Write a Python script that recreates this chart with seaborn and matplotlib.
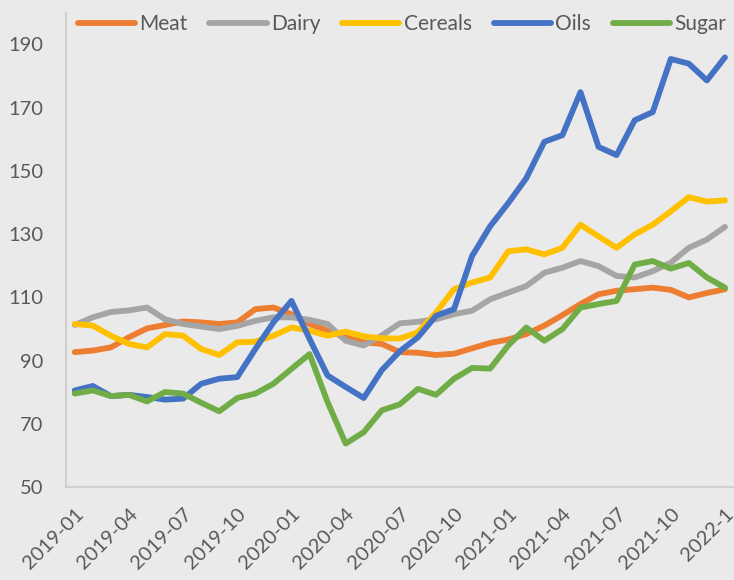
import numpy as np
import pandas as pd
import seaborn as sns
import matplotlib.pyplot as plt

# --- Data (monthly index) ---
MONTHS = pd.date_range("2019-01-01", "2022-01-01", freq="MS").strftime("%Y-%m").tolist()
TICK_LABELS = ["2019-01", "2019-04", "2019-07", "2019-10", "2020-01", "2020-04", "2020-07",
               "2020-10", "2021-01", "2021-04", "2021-07", "2021-10", "2022-1"]

meat = [92.7, 93.2, 94.2, 97.4, 100.2, 101.3, 102.4, 102.1, 101.6, 102.1, 106.3, 106.8,
        104.7, 101.6, 99.5, 97.4, 95.8, 95.3, 92.7, 92.5, 91.8, 92.2, 93.9, 95.6,
        96.7, 98.4, 101.1, 104.4, 107.9, 111.0, 112.1, 112.6, 113.1, 112.4, 110.0, 111.4,
        112.6]
dairy = [101.3, 103.7, 105.4, 105.9, 106.8, 103.1, 101.6, 100.8, 100.0, 101.0, 102.6, 103.7,
         103.7, 102.9, 101.6, 96.3, 94.8, 98.0, 101.8, 102.3, 103.1, 104.7, 105.8, 109.4,
         111.5, 113.6, 117.8, 119.4, 121.5, 119.9, 116.8, 116.3, 118.3, 121.0, 125.7, 128.3,
         132.3]
cereals = [101.6, 101.1, 97.9, 95.3, 94.2, 98.4, 97.9, 93.7, 91.8, 95.8, 96.0, 97.9,
           100.5, 99.5, 97.9, 99.2, 97.7, 97.1, 97.0, 99.0, 105.2, 112.6, 114.7, 116.3,
           124.6, 125.2, 123.6, 125.7, 133.0, 129.3, 125.7, 129.9, 133.0, 137.2, 141.7, 140.3,
           140.7]
oils = [80.6, 82.0, 78.8, 79.2, 78.5, 77.7, 78.0, 82.7, 84.3, 84.8, 93.7, 102.1,
        108.9, 96.9, 85.3, 81.7, 78.2, 87.0, 93.0, 97.4, 104.2, 106.3, 123.1, 132.5,
        139.8, 147.7, 159.2, 161.3, 174.9, 157.6, 155.0, 166.0, 168.6, 185.4, 183.9, 178.6,
        185.9]
sugar = [79.6, 80.6, 78.8, 79.2, 77.1, 80.1, 79.6, 76.7, 74.0, 78.2, 79.6, 82.7,
         87.4, 92.1, 76.9, 63.8, 67.4, 74.3, 76.2, 81.1, 79.2, 84.3, 87.7, 87.5,
         94.8, 100.5, 96.3, 100.0, 106.8, 107.9, 108.9, 120.4, 121.5, 119.1, 120.9, 116.3,
         113.1]

SERIES = ["Meat", "Dairy", "Cereals", "Oils", "Sugar"]
COLORS = ["#ED7D31", "#A5A5A5", "#FFC000", "#4472C4", "#70AD47"]

BG = "#EAEAEA"
TEXT = "#595959"

df = pd.DataFrame({"month": MONTHS, "Meat": meat, "Dairy": dairy, "Cereals": cereals,
                   "Oils": oils, "Sugar": sugar})
df["pos"] = np.arange(len(df))
long_df = df.melt(id_vars=["month", "pos"], value_vars=SERIES,
                  var_name="Series", value_name="Value")

sns.set_style("white", {"axes.facecolor": BG, "figure.facecolor": BG})
plt.rcParams["font.family"] = ["Lato", "DejaVu Sans"]

fig = plt.figure(figsize=(7.34, 5.8), dpi=100)
ax = fig.add_axes([0.0895, 0.160, 0.9105, 0.818])

sns.lineplot(data=long_df, x="pos", y="Value", hue="Series", hue_order=SERIES,
             palette=dict(zip(SERIES, COLORS)), linewidth=4.2, sort=False,
             legend=False, ax=ax, solid_capstyle="round", solid_joinstyle="round")

ax.set_xlim(-0.5, len(MONTHS) - 0.5)
ax.set_ylim(50, 200)
ax.set_yticks(np.arange(50, 200, 20))
ax.set_xticks(np.arange(0, len(MONTHS), 3))
ax.set_xticklabels(TICK_LABELS, rotation=45, ha="right", rotation_mode="anchor")
ax.set_xlabel("")
ax.set_ylabel("")
ax.tick_params(axis="both", length=0, labelsize=14.5, colors=TEXT)
ax.tick_params(axis="y", pad=16)
ax.tick_params(axis="x", pad=13)

for side in ["top", "right"]:
    ax.spines[side].set_visible(False)
for side in ["left", "bottom"]:
    ax.spines[side].set_color("#D0D0D0")
    ax.spines[side].set_linewidth(1.5)

handles = [plt.Line2D([], [], color=c, linewidth=4.2, solid_capstyle="round") for c in COLORS]
leg = ax.legend(handles, SERIES, loc="center", bbox_to_anchor=(0.503, 0.976), ncol=5,
                frameon=False, fontsize=15, handlelength=2.75, handletextpad=0.2,
                columnspacing=1.05, borderaxespad=0)
for t in leg.get_texts():
    t.set_color(TEXT)

fig.savefig("out.png", dpi=100, facecolor=BG)
